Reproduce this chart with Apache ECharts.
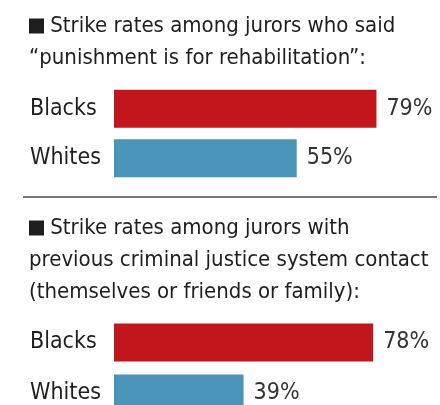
<!DOCTYPE html>
<html>
<head>
<meta charset="utf-8">
<script src="https://cdn.jsdelivr.net/npm/echarts@6/dist/echarts.min.js"></script>
<style>
html,body{margin:0;padding:0;background:#fff;}
#chart{width:440px;height:405px;}
</style>
</head>
<body>
<div id="chart"></div>
<script>
const categories = ['Blacks', 'Whites'];
const rehabValues = [79, 55];
const contactValues = [78, 39];
const rehabTitle = '{sq|} Strike rates among jurors who said\n\u201Cpunishment is for rehabilitation\u201D:';
const contactTitle = '{sq|} Strike rates among jurors with\nprevious criminal justice system contact\n(themselves or friends or family):';

const FONT = '"DejaVu Sans Condensed", "Liberation Sans Narrow", "Liberation Sans", sans-serif';
const RED = '#c0161c';
const BLUE = '#4a93b9';
const TEXT = '#1e1e1e';

function barData(vals) {
  return vals.map((v, i) => ({ value: v, itemStyle: { color: i === 0 ? RED : BLUE } }));
}

const chart = echarts.init(document.getElementById('chart'), null, { renderer: 'canvas' });
const yAxisBase = {
  type: 'category',
  inverse: true,
  data: categories,
  axisLine: { show: false },
  axisTick: { show: false },
  axisLabel: { align: 'left', margin: 84, fontSize: 23, color: TEXT, fontFamily: FONT }
};
const xAxisBase = { type: 'value', min: 0, max: 90, show: false, splitLine: { show: false } };
const labelBase = { show: true, position: 'right', distance: 10, formatter: '{c}%', fontSize: 23, color: '#333', fontFamily: FONT };
const titleStyle = {
  fontSize: 22, fontWeight: 'normal', color: TEXT, fontFamily: FONT, lineHeight: 32,
  rich: { sq: { width: 15, height: 15, backgroundColor: TEXT } }
};

chart.setOption({
  backgroundColor: '#fff',
  animation: false,
  title: [
    { text: rehabTitle, left: 29, top: 10, padding: 0, textStyle: titleStyle },
    { text: contactTitle, left: 29, top: 212, padding: 0, textStyle: titleStyle }
  ],
  grid: [
    { left: 114, top: 84, width: 299, height: 99, outerBoundsMode: 'none' },
    { left: 114, top: 317, width: 299, height: 102, outerBoundsMode: 'none' }
  ],
  xAxis: [Object.assign({ gridIndex: 0 }, xAxisBase), Object.assign({ gridIndex: 1 }, xAxisBase)],
  yAxis: [Object.assign({ gridIndex: 0 }, yAxisBase), Object.assign({ gridIndex: 1 }, yAxisBase)],
  series: [
    { type: 'bar', xAxisIndex: 0, yAxisIndex: 0, barWidth: 38, data: barData(rehabValues), label: labelBase },
    { type: 'bar', xAxisIndex: 1, yAxisIndex: 1, barWidth: 38, data: barData(contactValues), label: labelBase }
  ],
  graphic: [
    { type: 'line', shape: { x1: 23, y1: 197, x2: 437, y2: 197 }, style: { stroke: '#777', lineWidth: 2 } }
  ]
});
</script>
</body>
</html>
